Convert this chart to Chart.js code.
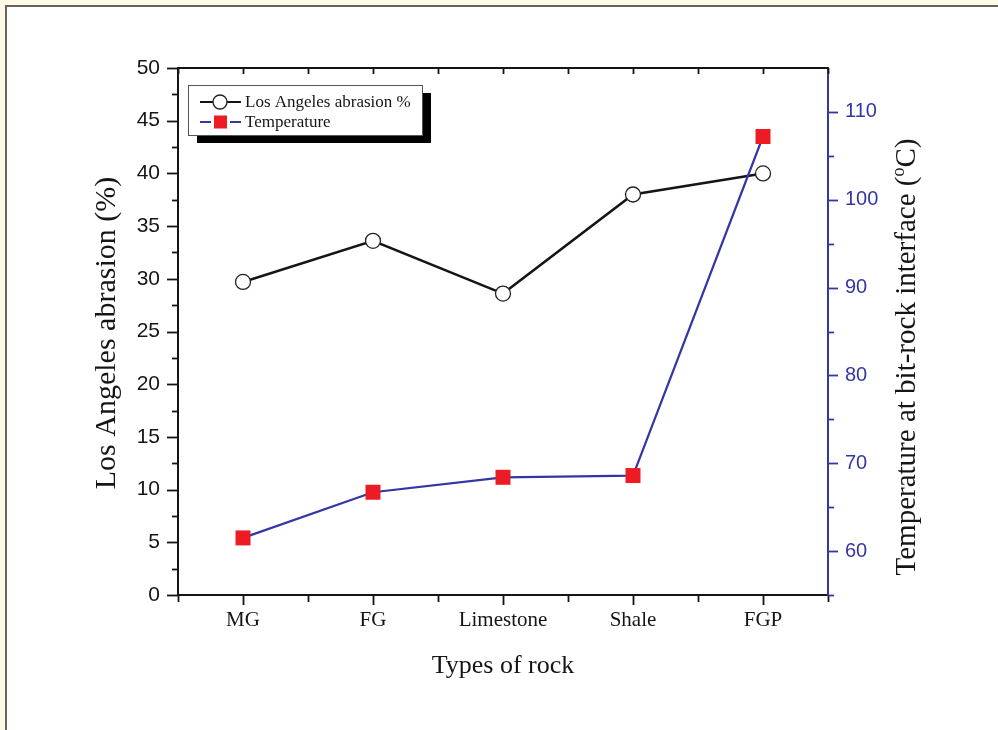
<!DOCTYPE html>
<html>
<head>
<meta charset="utf-8">
<style>
  html, body { margin: 0; padding: 0; background: #fffbe6; }
  #wrap { position: absolute; left: 0; top: 0; width: 998px; height: 730px; }
  canvas { display: block; }
</style>
<script src="https://cdn.jsdelivr.net/npm/chart.js@4.4.1/dist/chart.umd.min.js"></script>
</head>
<body>
<div id="wrap"><canvas id="chart" width="998" height="730"></canvas></div>
<script>
// Rock types along the x axis
const rockTypes = ['MG', 'FG', 'Limestone', 'Shale', 'FGP'];
// Los Angeles abrasion (%) per rock type
const abrasion = [29.7, 33.6, 28.6, 38.0, 40.0];
// Temperature at the bit-rock interface (°C) per rock type
const temperature = [61.5, 66.7, 68.4, 68.6, 107.2];

// Axis ranges and tick steps
const abrasionAxis = { min: 0, max: 50, major: 5, minor: 2.5 };
const temperatureAxis = { min: 55, max: 115, major: 10, minor: 5 };

const BLUE = '#3437a3';
const RED = '#ed1c24';
const INK = '#151515';
const SERIF = '"Liberation Serif", "Times New Roman", serif';
const SANS = '"Liberation Sans", Arial, sans-serif';

const toPoints = vals => vals.map((v, i) => ({ x: i, y: v }));

// Page frame: cream surround with a grey edge on the top and left
const framePlugin = {
  id: 'frame',
  beforeDraw(chart) {
    const { ctx, width, height } = chart;
    ctx.save();
    ctx.fillStyle = '#fffbe6';
    ctx.fillRect(0, 0, width, height);
    ctx.fillStyle = '#ffffff';
    ctx.fillRect(6, 6, width - 6, height - 6);
    ctx.fillStyle = '#66655c';
    ctx.fillRect(5, 5, width - 5, 2);
    ctx.fillRect(5, 5, 2, height - 5);
    ctx.restore();
  }
};

// Major/minor tick marks, the closing top edge, axis titles and the legend
const decorPlugin = {
  id: 'decor',
  afterDraw(chart) {
    const { ctx, chartArea: ca, scales } = chart;
    const x = scales.x, y = scales.y, y1 = scales.y1;
    ctx.save();
    ctx.lineCap = 'butt';

    // top edge
    ctx.strokeStyle = INK;
    ctx.lineWidth = 2;
    ctx.beginPath();
    ctx.moveTo(ca.left - 1, ca.top);
    ctx.lineTo(ca.right, ca.top);
    ctx.stroke();

    // x ticks (bottom outward, top inward)
    ctx.lineWidth = 1.8;
    for (let v = -0.5; v <= rockTypes.length - 0.5 + 1e-9; v += 0.5) {
      const px = Math.round(x.getPixelForValue(v)) + 0.5;
      const major = Number.isInteger(v);
      ctx.beginPath();
      ctx.moveTo(px, ca.bottom);
      ctx.lineTo(px, ca.bottom + (major ? 10 : 7));
      ctx.moveTo(px, ca.top);
      ctx.lineTo(px, ca.top + 6);
      ctx.stroke();
    }

    // left y ticks
    for (let v = abrasionAxis.min; v <= abrasionAxis.max + 1e-9; v += abrasionAxis.minor) {
      const py = Math.round(y.getPixelForValue(v)) + 0.5;
      const major = Math.abs(v / abrasionAxis.major - Math.round(v / abrasionAxis.major)) < 1e-9;
      ctx.beginPath();
      ctx.moveTo(ca.left - (major ? 11 : 6), py);
      ctx.lineTo(ca.left, py);
      ctx.stroke();
    }

    // right y ticks
    ctx.strokeStyle = BLUE;
    for (let v = temperatureAxis.min; v < temperatureAxis.max - 1e-9; v += temperatureAxis.minor) {
      const py = Math.round(y1.getPixelForValue(v)) + 0.5;
      const major = v % temperatureAxis.major === 0;
      ctx.beginPath();
      ctx.moveTo(ca.right, py);
      ctx.lineTo(ca.right + (major ? 10 : 6), py);
      ctx.stroke();
    }

    // axis titles
    ctx.fillStyle = INK;
    ctx.textBaseline = 'middle';
    ctx.textAlign = 'center';
    ctx.font = '26px ' + SERIF;
    ctx.fillText('Types of rock', (ca.left + ca.right) / 2, 666);

    ctx.save();
    ctx.translate(107, 333);
    ctx.rotate(-Math.PI / 2);
    ctx.font = '30px ' + SERIF;
    ctx.fillText('Los Angeles abrasion (%)', 0, 0);
    ctx.restore();

    ctx.save();
    ctx.translate(907, 357);
    ctx.rotate(-Math.PI / 2);
    const main = 'Temperature at bit-rock interface (';
    const tail = 'C)';
    ctx.font = '29px ' + SERIF;
    const wMain = ctx.measureText(main).width;
    const wTail = ctx.measureText(tail).width;
    ctx.font = '18px ' + SERIF;
    const wSup = ctx.measureText('o').width;
    const total = wMain + wSup + wTail;
    let cx = -total / 2;
    ctx.textAlign = 'left';
    ctx.font = '29px ' + SERIF;
    ctx.fillText(main, cx, 0);
    cx += wMain;
    ctx.font = '18px ' + SERIF;
    ctx.fillText('o', cx, -8);
    cx += wSup;
    ctx.font = '29px ' + SERIF;
    ctx.fillText(tail, cx, 0);
    ctx.restore();

    // legend box with drop shadow
    const lb = { x: 188, y: 85, w: 234, h: 50 };
    ctx.fillStyle = '#000';
    ctx.fillRect(lb.x + 9, lb.y + 8, lb.w, lb.h);
    ctx.fillStyle = '#fff';
    ctx.fillRect(lb.x, lb.y, lb.w, lb.h);
    ctx.strokeStyle = '#555';
    ctx.lineWidth = 1;
    ctx.strokeRect(lb.x + 0.5, lb.y + 0.5, lb.w, lb.h);

    const ds = chart.data.datasets;
    const rows = [lb.y + 17, lb.y + 37];
    ds.forEach((d, i) => {
      const ry = rows[i];
      ctx.strokeStyle = d.borderColor;
      ctx.lineWidth = 2;
      ctx.beginPath();
      ctx.moveTo(200, ry);
      ctx.lineTo(241, ry);
      ctx.stroke();
      if (d.pointStyle === 'circle') {
        ctx.fillStyle = '#fff';
        ctx.strokeStyle = d.pointBorderColor;
        ctx.lineWidth = 1.3;
        ctx.beginPath();
        ctx.arc(220, ry, 7, 0, Math.PI * 2);
        ctx.fill();
        ctx.stroke();
      } else {
        ctx.fillStyle = '#fff';
        ctx.fillRect(211, ry - 2, 19, 4);
        ctx.fillStyle = d.pointBackgroundColor;
        ctx.fillRect(214, ry - 6.5, 13, 13);
      }
      ctx.fillStyle = INK;
      ctx.textAlign = 'left';
      ctx.textBaseline = 'middle';
      ctx.font = '17px ' + SERIF;
      ctx.fillText(d.label, 245, ry + 1);
    });

    ctx.restore();
  }
};

new Chart(document.getElementById('chart'), {
  type: 'line',
  data: {
    datasets: [
      {
        label: 'Los Angeles abrasion %',
        data: toPoints(abrasion),
        yAxisID: 'y',
        borderColor: INK,
        borderWidth: 2.5,
        pointStyle: 'circle',
        pointRadius: 7.5,
        pointBackgroundColor: '#ffffff',
        pointBorderColor: '#222222',
        pointBorderWidth: 1.3,
        tension: 0,
        order: 1
      },
      {
        label: 'Temperature',
        data: toPoints(temperature),
        yAxisID: 'y1',
        borderColor: BLUE,
        borderWidth: 2.2,
        pointStyle: 'rect',
        pointRadius: 10.6,
        pointBackgroundColor: RED,
        pointBorderColor: RED,
        pointBorderWidth: 0,
        tension: 0,
        order: 0
      }
    ]
  },
  options: {
    responsive: false,
    animation: false,
    devicePixelRatio: 1,
    layout: { padding: { top: 68, left: 0, right: 0, bottom: 0 } },
    plugins: { legend: { display: false }, tooltip: { enabled: false } },
    scales: {
      x: {
        type: 'linear',
        min: -0.5,
        max: rockTypes.length - 0.5,
        grid: { display: false, drawTicks: false },
        border: { display: true, color: INK, width: 2 },
        afterBuildTicks: s => {
          s.ticks = rockTypes.map((_, i) => ({ value: i }));
        },
        ticks: {
          autoSkip: false,
          maxRotation: 0,
          padding: 13,
          color: INK,
          font: { family: SERIF, size: 21 },
          callback: v => rockTypes[v] ?? ''
        },
        afterFit: s => { s.height = 135; }
      },
      y: {
        position: 'left',
        min: abrasionAxis.min,
        max: abrasionAxis.max,
        grid: { display: false, drawTicks: false },
        border: { display: true, color: INK, width: 2 },
        ticks: {
          stepSize: abrasionAxis.major,
          padding: 18,
          color: INK,
          font: { family: SANS, size: 21 }
        },
        afterFit: s => { s.width = 178; }
      },
      y1: {
        position: 'right',
        min: temperatureAxis.min,
        max: temperatureAxis.max,
        grid: { display: false, drawTicks: false },
        border: { display: true, color: BLUE, width: 2 },
        afterBuildTicks: s => {
          const t = [];
          for (let v = 60; v <= 110; v += temperatureAxis.major) t.push({ value: v });
          s.ticks = t;
        },
        ticks: {
          padding: 17,
          color: BLUE,
          font: { family: SANS, size: 20 }
        },
        afterFit: s => { s.width = 170; }
      }
    }
  },
  plugins: [framePlugin, decorPlugin]
});
</script>
</body>
</html>
